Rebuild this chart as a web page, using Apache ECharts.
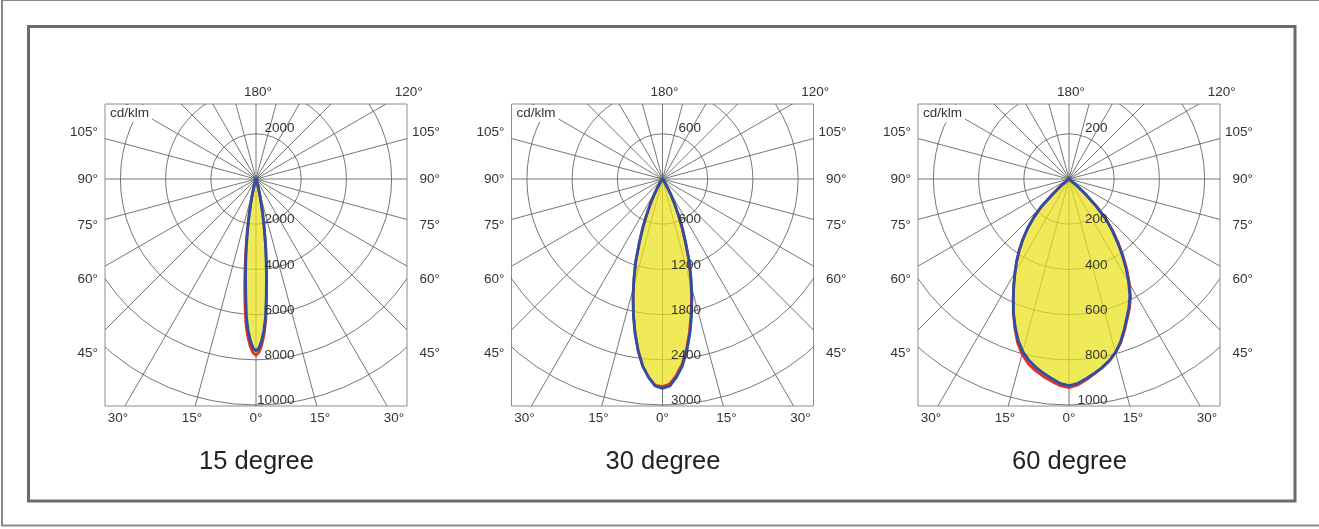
<!DOCTYPE html>
<html><head><meta charset="utf-8">
<script src="https://cdn.jsdelivr.net/npm/echarts@6/dist/echarts.min.js"></script>
<style>html,body{margin:0;padding:0;background:#fff}#c{width:1319px;height:529px}</style>
</head><body><div id="c"></div>
<script>
// ---------------- data ----------------
const titles = ['15 degree', '30 degree', '60 degree'];
const ringMax = [10000, 3000, 1000];
const ringStep = [2000, 600, 200];
const unitLabel = 'cd/klm';

// 15 degree beam (cd/klm vs gamma in degrees)
const gamma15 = [0,1,2,3,4,5,6,7,8,9,10,11,12,13,14,15,16,17,18,19,20];
const blue15Left  = [7610,7480,7150,6690,6090,5200,4420,3720,3080,2480,1960,1500,1100,800,560,370,230,130,60,20,0];
const blue15Right = [7610,7480,7150,6690,6090,5200,4420,3720,3080,2480,1960,1500,1100,800,560,370,230,130,60,20,0];
const red15Left   = [7800,7690,7400,6980,6420,5600,4780,4000,3280,2620,2060,1560,1130,810,565,375,232,130,60,20,0];
const red15Right  = [7800,7670,7350,6880,6250,5340,4520,3780,3120,2500,1970,1505,1100,800,560,370,230,130,60,20,0];

// 30 degree beam
const gamma30 = [0,2,4,6,8,10,12,14,16,18,20,22,24,26,28,30,32,34,36];
const blue30Left  = [2780,2750,2640,2500,2310,2090,1855,1615,1375,1150,900,700,515,360,240,140,70,25,0];
const blue30Right = [2780,2750,2640,2500,2310,2090,1855,1615,1375,1150,900,700,515,360,240,140,70,25,0];
const red30Left   = [2755,2740,2640,2500,2310,2090,1855,1615,1375,1150,900,700,515,360,240,140,70,25,0];
const red30Right  = [2755,2725,2615,2475,2285,2065,1830,1592,1355,1132,886,690,508,355,236,138,68,24,0];

// 60 degree beam
const gamma60 = [0,2.5,5,7.5,10,12.5,15,17.5,20,22.5,25,27.5,30,32.5,35,37.5,40,42.5,45,47.5,50,52.5];
const blue60Left  = [914,905,886,866,846,821,790,748,696,641,583,529,478,431,384,335,285,232,175,90,35,0];
const blue60Right = [914,905,886,866,846,823,794,757,712,667,627,583,528,470,411,352,298,242,170,95,35,0];
const red60Left   = [923,915,898,880,860,836,803,758,702,644,584,529,478,430,382,333,283,230,173,90,35,0];
const red60Right  = [923,912,891,869,848,825,796,760,716,672,633,590,535,477,418,359,304,248,176,100,38,0];

// angle tick labels (degrees)
const bottomAngles = [-30, -15, 0, 15, 30];
const sideAngles = [45, 60, 75, 90, 105];
const topAngles = [180, 120];

// ---------------- layout / style ----------------
const panels = [
  {title: titles[0], R: ringMax[0], step: ringStep[0], gamma: gamma15, red: [red15Left, red15Right], blue: [blue15Left, blue15Right]},
  {title: titles[1], R: ringMax[1], step: ringStep[1], gamma: gamma30, red: [red30Left, red30Right], blue: [blue30Left, blue30Right]},
  {title: titles[2], R: ringMax[2], step: ringStep[2], gamma: gamma60, red: [red60Left, red60Right], blue: [blue60Left, blue60Right]}
];
const boxLefts = [105, 511.5, 918];
const boxTop = 104, boxSize = 302, ringPx = 226, poleFromTop = 75, halfW = 151;
const FONT = '"Liberation Sans", Arial, Helvetica, sans-serif';
const GRID_COLOR = '#686868';
const RED = '#e5302a', BLUE = '#2c4fa6', FILL = 'rgba(234,226,25,0.72)';

function toXY(I, g, side) {
  const a = g * Math.PI / 180;
  return [side * I * Math.sin(a), -I * Math.cos(a)];
}
function curvePts(gam, left, right) {
  const pts = [];
  for (let i = gam.length - 1; i >= 0; i--) pts.push(toXY(left[i], gam[i], -1));
  for (let i = 1; i < gam.length; i++) pts.push(toXY(right[i], gam[i], 1));
  return pts;
}
function txt(x, y, text, align, size, color, extra) {
  return {
    type: 'text', x: x, y: y,
    style: Object.assign({
      text: text, fill: color || '#333', fontSize: size || 13.5, fontFamily: FONT,
      textAlign: align || 'center', textVerticalAlign: 'middle',
      align: align || 'center', verticalAlign: 'middle'
    }, extra || {})
  };
}

const grids = [], xAxes = [], yAxes = [], series = [], graphics = [];

panels.forEach((p, i) => {
  const R = p.R, u = R / ringPx;
  grids.push({left: boxLefts[i], top: boxTop, width: boxSize, height: boxSize, show: true,
    borderColor: '#8c8c8c', borderWidth: 1, backgroundColor: 'transparent',
    containLabel: false, outerBoundsMode: 'none'});
  xAxes.push({gridIndex: i, type: 'value', min: -halfW * u, max: (boxSize - halfW) * u, show: false});
  yAxes.push({gridIndex: i, type: 'value', min: -(boxSize - poleFromTop) * u, max: poleFromTop * u, show: false});

  // polar grid (rings + spokes), clipped to the box
  series.push({
    type: 'custom', xAxisIndex: i, yAxisIndex: i, clip: true, z: 1, silent: true, data: [[0, 0]],
    renderItem: (params, api) => {
      const c = api.coord([0, 0]);
      const children = [];
      for (let v = p.step; v <= R + 1e-9; v += p.step) {
        const rp = api.size([v, 0])[0];
        children.push({type: 'circle', shape: {cx: c[0], cy: c[1], r: rp},
          style: {fill: 'none', stroke: GRID_COLOR, lineWidth: 0.9}});
      }
      for (let a = 0; a < 360; a += 15) {
        const e = api.coord(toXY(R * 1.6, a, 1));
        children.push({type: 'line', shape: {x1: c[0], y1: c[1], x2: e[0], y2: e[1]},
          style: {stroke: GRID_COLOR, lineWidth: 0.9}});
      }
      return {type: 'group', children: children};
    }
  });

  // red curve with yellow fill
  series.push({
    type: 'custom', xAxisIndex: i, yAxisIndex: i, clip: true, z: 2, silent: true, data: [[0, 0]],
    renderItem: (params, api) => ({
      type: 'polygon',
      shape: {points: curvePts(p.gamma, p.red[0], p.red[1]).map(q => api.coord(q))},
      style: {fill: FILL, stroke: RED, lineWidth: 2.8, lineJoin: 'round'}
    })
  });
  // blue curve
  series.push({
    type: 'custom', xAxisIndex: i, yAxisIndex: i, clip: true, z: 3, silent: true, data: [[0, 0]],
    renderItem: (params, api) => ({
      type: 'polygon',
      shape: {points: curvePts(p.gamma, p.blue[0], p.blue[1]).map(q => api.coord(q))},
      style: {fill: 'none', stroke: BLUE, lineWidth: 2.8, lineJoin: 'round'}
    })
  });

  // labels
  series.push({
    type: 'custom', xAxisIndex: i, yAxisIndex: i, clip: false, z: 4, silent: true, data: [[0, 0]],
    renderItem: (params, api) => {
      const c = api.coord([0, 0]);
      const bl = api.coord([-halfW * u, 0])[0];
      const br = api.coord([(boxSize - halfW) * u, 0])[0];
      const bt = api.coord([0, poleFromTop * u])[1];
      const children = [];
      // ring value labels
      for (let v = p.step; v <= R + 1e-9; v += p.step) {
        const below = api.coord([0, -v]);
        children.push(txt(c[0] + 38.5, below[1] - 4.5, String(v), 'right'));
        const above = api.coord([0, v]);
        if (above[1] - 12 > bt) children.push(txt(c[0] + 38.5, above[1] - 5.5, String(v), 'right'));
      }
      // unit label
      children.push(txt(bl + 4, bt + 9.5, unitLabel, 'left', 13.5, '#333',
        {backgroundColor: '#fff', padding: [2, 3, 1, 1]}));
      // bottom angle labels
      bottomAngles.forEach(a => {
        const dy = 239;
        children.push(txt(c[0] + dy * Math.tan(a * Math.PI / 180), c[1] + dy, Math.abs(a) + '°', 'center'));
      });
      // side angle labels
      sideAngles.forEach(a => {
        const y = c[1] + 174 / Math.tan(a * Math.PI / 180);
        children.push(txt(br + 33, y, a + '°', 'right'));
        children.push(txt(bl - 7, y, a + '°', 'right'));
      });
      // top angle labels
      topAngles.forEach(a => {
        const dy = 87;
        children.push(txt(c[0] + dy * Math.tan((180 - a) * Math.PI / 180) + 2, c[1] - dy, a + '°', 'center'));
      });
      return {type: 'group', children: children};
    }
  });

  graphics.push({type: 'text', x: boxLefts[i] + 151.5, y: 462, z: 10,
    style: {text: p.title, fill: '#222', fontSize: 25.5, fontFamily: FONT,
      textAlign: 'center', textVerticalAlign: 'middle', align: 'center', verticalAlign: 'middle'}});
});

// frames
graphics.unshift({type: 'rect', z: 0, shape: {x: 2, y: 0, width: 1340, height: 525.5},
  style: {fill: 'none', stroke: '#8a8a8a', lineWidth: 2}});
graphics.unshift({type: 'rect', z: 0, shape: {x: 28.5, y: 26.5, width: 1266.5, height: 474.5},
  style: {fill: 'none', stroke: '#6b6b6b', lineWidth: 3}});

const chart = echarts.init(document.getElementById('c'), null, {renderer: 'canvas'});
chart.setOption({
  animation: false,
  backgroundColor: '#fff',
  grid: grids, xAxis: xAxes, yAxis: yAxes,
  series: series,
  graphic: graphics
});
</script></body></html>
